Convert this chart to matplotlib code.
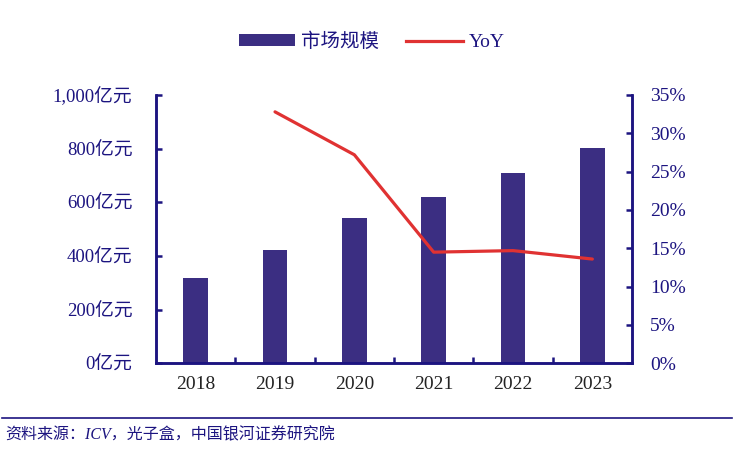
import numpy as np
import matplotlib
matplotlib.use("Agg")
import matplotlib.pyplot as plt
from matplotlib.lines import Line2D
from matplotlib.patches import Patch

years = ["2018", "2019", "2020", "2021", "2022", "2023"]
market_size = [318, 424, 540, 618, 708, 802]   # 亿元
yoy = [np.nan, 32.8, 27.2, 14.5, 14.7, 13.6]    # %
left_ticks = [0, 200, 400, 600, 800, 1000]
left_labels = ["0亿元", "200亿元", "400亿元", "600亿元", "800亿元", "1,000亿元"]
right_ticks = [0, 5, 10, 15, 20, 25, 30, 35]
right_labels = ["0%", "5%", "10%", "15%", "20%", "25%", "30%", "35%"]

navy = "#1c1480"
bar_color = "#3b2e82"
red = "#e03232"
fam = ["Liberation Serif", "Noto Sans CJK SC"]
plt.rcParams["font.family"] = fam

fig = plt.figure(figsize=(7.36, 4.51), dpi=100)
ax = fig.add_axes([0.212, 0.1944, 0.6467, 0.595])
ax2 = ax.twinx()

x = np.arange(len(years))
ax.bar(x, market_size, width=0.31, color=bar_color, zorder=2)
ax2.plot(x, yoy, color=red, linewidth=2.3, solid_capstyle="round", zorder=3)

ax.set_xlim(-0.5, len(years) - 0.5)
ax.set_ylim(0, 1000)
ax2.set_ylim(0, 35)

ax.set_yticks(left_ticks)
ax.set_yticklabels(left_labels)
ax2.set_yticks(right_ticks)
ax2.set_yticklabels(right_labels)
ax.set_xticks(x)
ax.set_xticklabels(years)
ax.set_xticks(x[:-1] + 0.5, minor=True)

for a in (ax, ax2):
    for s in a.spines.values():
        s.set_color(navy)
        s.set_linewidth(1.8)
    a.spines["top"].set_visible(False)

ax.tick_params(axis="y", direction="in", length=4, width=1.8, color=navy,
               labelsize=13.5, labelcolor=navy, pad=17)
ax2.tick_params(axis="y", direction="in", length=4, width=1.8, color=navy,
                labelsize=14, labelcolor=navy, pad=13)
ax.tick_params(axis="x", which="major", length=0, labelsize=14,
               labelcolor="#222222", pad=9)
ax.tick_params(axis="x", which="minor", direction="in", length=4,
               width=1.8, color=navy)

handles = [Patch(facecolor=bar_color, edgecolor="none"),
           Line2D([0], [0], color=red, linewidth=2.3)]
fig.legend(handles, ["市场规模", "YoY"], loc="center", ncol=2,
           bbox_to_anchor=(0.505, 0.907), frameon=False, fontsize=14,
           handlelength=2.9, handleheight=0.55, columnspacing=1.4,
           handletextpad=0.3, labelcolor=navy)

fig.add_artist(Line2D([0.003, 0.994], [0.073, 0.073], color=navy,
                      linewidth=1.2, transform=fig.transFigure))
fig.text(0.007, 0.035, "资料来源：ICV，光子盒，中国银河证券研究院",
         fontsize=11.5, color=navy, style="italic", va="center", ha="left")

fig.savefig("out.png", dpi=100)
